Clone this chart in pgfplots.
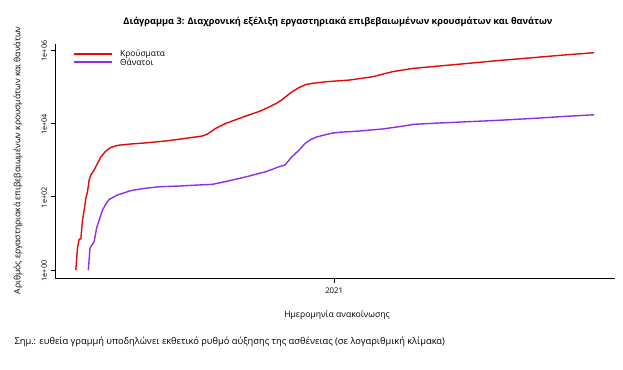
\documentclass[border=0pt]{standalone}
\usepackage{pgfplots}
\pgfplotsset{compat=1.18}
\usepackage{fontspec}
\setmainfont{Open Sans}
\definecolor{cred}{RGB}{224,10,10}
\definecolor{cpurple}{RGB}{145,45,232}
\begin{document}
\begin{tikzpicture}
\path[use as bounding box] (0pt,0pt) rectangle (623pt,369pt);
\begin{axis}[
  at={(55pt,90.3pt)}, anchor=south west,
  width=560pt, height=234.7pt, scale only axis,
  xmin=31, xmax=703,
  ymode=log, ymin=0.579, ymax=1.456e6,
  axis x line*=bottom, axis y line*=left,
  axis line style={black, line width=0.7pt, -},
  tick align=outside, major tick length=4.5pt,
  tick style={black, line width=0.7pt},
  xtick={366}, xticklabels={2021},
  xticklabel style={font=\fontsize{7.8}{8}\selectfont, yshift=-1pt},
  ytick={1,100,10000,1000000},
  yticklabels={1e+00,1e+02,1e+04,1e+06},
  yticklabel style={rotate=90, anchor=south, font=\fontsize{7.3}{8}\selectfont, xshift=-1pt},
  minor tick num=0, log basis y=10,
  /pgf/number format/assume math mode=true,
  legend style={at={(0.03,0.99)}, anchor=north west, draw=none, fill=none,
    font=\fontsize{8.4}{9}\selectfont, row sep=-3.5pt, column sep=5pt, inner sep=1pt},
  legend cell align=left,
  legend image code/.code={\draw[#1, line width=2.1pt] (0pt,0pt) -- (38pt,0pt);},
]
\addplot[cred, line width=1.4pt] coordinates {
(56,1)(58,4)(60,7)(62,7)(64,23)(66,43)(68,90)(70,137)(72,285)(74,390)(78,530)
(82,810)(86,1210)(92,1760)(98,2190)(106,2510)(122,2730)(138,2900)(164,3300)
(188,3900)(208,4510)(214,5100)(224,7300)(236,10000)(260,15800)(276,21000)
(288,27900)(298,36500)(303,43300)(309,55600)(315,71500)(324,94800)(332,114500)
(340,123000)(356,136000)(384,151000)(412,186000)(436,256000)(460,313000)
(492,366000)(528,434000)(564,517000)(607,624000)(642,730000)(678,843000)
};
\addlegendentry{Κρούσματα}
\addplot[cpurple, line width=1.4pt] coordinates {
(71,1)(73,4)(76,5)(78,6)(81,14)(84,23)(88,43)(92,63)(96,84)(106,111)(122,146)
(139,169)(156,186)(180,195)(196,204)(220,217)(237,262)(256,329)(264,366)
(284,479)(300,657)(307,730)(315,1207)(324,1870)(331,2820)(338,3620)(345,4240)
(354,4800)(363,5350)(372,5690)(396,6170)(424,7000)(444,8100)(462,9400)
(492,10200)(528,11100)(564,12100)(607,13700)(642,15400)(678,17100)
};
\addlegendentry{Θάνατοι}
\end{axis}
\node[font=\bfseries\fontsize{9.2}{10}\selectfont] at (338pt,347pt) {Διάγραμμα 3: Διαχρονική εξέλιξη εργαστηριακά επιβεβαιωμένων κρουσμάτων και θανάτων};
\node[font=\fontsize{8.6}{9}\selectfont, rotate=90] at (18pt,208.5pt) {Αριθμός εργαστηριακά επιβεβαιωμένων κρουσμάτων και θανάτων};
\node[font=\fontsize{8.6}{9}\selectfont] at (337pt,54pt) {Ημερομηνία ανακοίνωσης};
\node[font=\fontsize{9.3}{10}\selectfont, anchor=west] at (11pt,27.3pt) {Σημ.: ευθεία γραμμή υποδηλώνει εκθετικό ρυθμό αύξησης της ασθένειας (σε λογαριθμική κλίμακα)};
\end{tikzpicture}
\end{document}
